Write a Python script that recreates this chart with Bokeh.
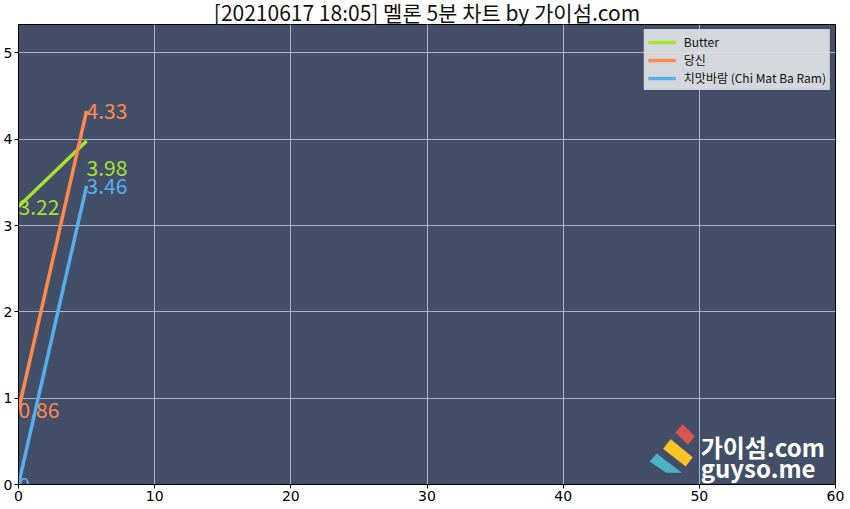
from bokeh.plotting import figure
from bokeh.models import ColumnDataSource, Range1d, Legend, LegendItem, Label, FixedTicker
from bokeh.core.properties import value
from bokeh.embed import file_html
from bokeh.resources import INLINE

# ---- data ----
minutes = [0, 5]
series_names = ["Butter", "당신", "치맛바람 (Chi Mat Ba Ram)"]
butter = [3.22, 3.98]
dangsin = [0.86, 4.33]
chimat = [0.0, 3.46]
series_values = [butter, dangsin, chimat]
x_ticks = [0, 10, 20, 30, 40, 50, 60]
y_ticks = [0, 1, 2, 3, 4, 5]
title_text = "[20210617 18:05] 멜론 5분 차트 by 가이섬.com"

# ---- styles / layout ----
colors = ["#a6e22e", "#fd8a4c", "#58aeea"]
label_dy = [[0, 27], [0, 0], [0, 0]]  # screen-pixel nudges for value labels
X_END = 60
Y_END = 5.33

p = figure(width=850, height=509, output_backend="svg", toolbar_location=None,
           x_range=Range1d(0, X_END), y_range=Range1d(0, Y_END), title=title_text,
           min_border_right=15, min_border_top=0, min_border_left=4,
           min_border_bottom=25)
p.title.align = "center"
p.title.vertical_align = "top"
p.title.text_font = "Noto Sans CJK KR"
p.title.text_font_size = "21px"
p.title.text_font_style = "normal"
p.title.text_color = "#111111"
p.title.standoff = -8

p.background_fill_color = "#434f68"
p.border_fill_color = "white"
p.outline_line_color = "black"
p.outline_line_width = 1

for ax in (p.xaxis, p.yaxis):
    ax.axis_line_color = "black"
    ax.major_tick_line_color = "black"
    ax.minor_tick_line_color = None
    ax.major_tick_in = 0
    ax.major_tick_out = 4
    ax.major_label_text_font = "DejaVu Sans"
    ax.major_label_text_font_size = "14px"
    ax.major_label_text_color = "black"
    ax.major_label_standoff = 2
p.xaxis.ticker = FixedTicker(ticks=x_ticks)
p.yaxis.ticker = FixedTicker(ticks=y_ticks)

p.grid.grid_line_color = "#b8bfd6"
p.grid.grid_line_width = 1
p.grid.grid_line_alpha = 0.9

# reference pixel frame -> data helper for decorations
FR_L, FR_T, FR_W, FR_H = 17, 25, 818, 459
def px2data(px, py):
    return (px - FR_L) * X_END / FR_W, (FR_T + FR_H - py) * Y_END / FR_H

# ---- watermark logo (decoration) ----
logo_shapes = [
    ([(675, 432), (682, 424), (694, 436), (687, 444)], "#d9534f"),
    ([(662.7, 448.3), (670, 439), (691.7, 456.7), (685, 465.7)], "#fcc527"),
    ([(649.3, 461), (656, 453.3), (680.5, 472), (665.5, 472)], "#4bb3c8"),
]
for pts, col in logo_shapes:
    conv = [px2data(a, b) for a, b in pts]
    p.patch([c[0] for c in conv], [c[1] for c in conv], fill_color=col, line_color=col, line_width=0.5)

wx1, wy1 = px2data(700, 446)
wx2, wy2 = px2data(700, 467)
for tx, ty, tt in [(wx1, wy1, "가이섬.com"), (wx2, wy2, "guyso.me")]:
    p.add_layout(Label(x=tx, y=ty, text=tt, text_font="Noto Sans CJK KR", text_font_style="bold",
                       text_font_size="24px", text_color="white", text_baseline="alphabetic"))

# ---- series ----
items = []
for name, vals, col, dy in zip(series_names, series_values, colors, label_dy):
    src = ColumnDataSource(dict(x=minutes, y=vals, lbl=[f"{v:g}" for v in vals], dy=dy))
    r = p.line("x", "y", source=src, line_color=col, line_width=3.5)
    p.text("x", "y", text="lbl", source=src, text_color=col, text_font=value("Noto Sans CJK KR"),
           text_font_size="21px", text_align="left", text_baseline="alphabetic", y_offset="dy")
    items.append(LegendItem(label=name, renderers=[r]))

legend = Legend(items=items, location="top_right")
legend.background_fill_color = "#dcdfe4"
legend.background_fill_alpha = 0.95
legend.border_line_color = "#c5c9d1"
legend.label_text_font = "Noto Sans CJK KR"
legend.label_text_font_size = "12px"
legend.label_text_color = "#111111"
legend.glyph_width = 28
legend.glyph_height = 14
legend.label_height = 14
legend.label_standoff = 8
legend.spacing = 1
legend.padding = 3
legend.margin = 5
p.add_layout(legend)

open("out.html", "w").write(file_html(p, INLINE))
